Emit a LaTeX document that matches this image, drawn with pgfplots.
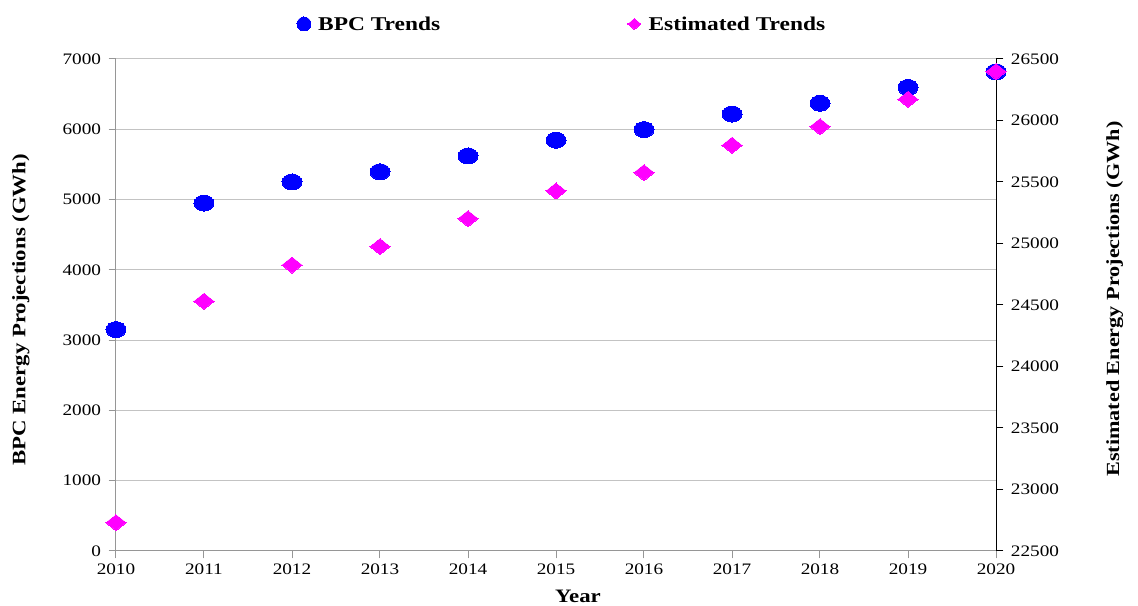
\documentclass[border=0pt]{standalone}
\usepackage{fontspec}
\setmainfont{Liberation Serif}[FakeStretch=1.2]
\usepackage{pgfplots}
\pgfplotsset{compat=1.18}
\definecolor{bpcblue}{RGB}{0,0,255}
\definecolor{estmag}{RGB}{255,0,255}
\definecolor{axgray}{RGB}{150,150,150}
\definecolor{gridgray}{RGB}{195,195,195}

\begin{document}
\begin{tikzpicture}
\pgfplotsset{
  common/.style={
    width=880pt, height=492pt, scale only axis,
    xmin=2010, xmax=2020,
    xtick={2010,2011,...,2020},
    scaled y ticks=false,
    /pgf/number format/assume math mode=true,
    /pgf/number format/fixed,
    /pgf/number format/1000 sep={},
    ticklabel style={font=\fontsize{16}{19}\selectfont},
    tick align=outside,
    major tick length=7.5pt,
    clip=false,
  }
}
\begin{axis}[common,
  ymin=0, ymax=7000, ytick={0,1000,...,7000},
  axis y line*=left, axis x line*=bottom,
  axis line style={axgray, line width=1pt},
  every tick/.style={axgray, line width=1pt},
  ymajorgrids, grid style={gridgray, line width=1pt},
  xticklabel style={yshift=-2pt},
  yticklabel style={xshift=-4pt},
  xlabel={\bfseries Year},
  xlabel style={font=\fontsize{19}{22}\selectfont, at={(axis description cs:0.525,-0.0915)}, anchor=center},
  ylabel={\bfseries BPC Energy Projections (GWh)},
  ylabel style={font=\fontsize{19}{22}\selectfont, at={(axis description cs:-0.108,0.49)}, anchor=center},
  legend style={draw=none, fill=none, at={(axis description cs:0.5,1)}, anchor=center, yshift=35pt, xshift=6pt,
    font=\fontsize{19.5}{22}\selectfont\bfseries, legend columns=2,
    /tikz/every even column/.append style={column sep=185pt}},
  legend image code/.code={\path (-7pt,0pt) (12pt,0pt); \draw[#1] plot coordinates {(0pt,0pt)};},
]
\addplot[only marks, mark=*, mark size=8pt, mark options={xscale=1.25, fill=bpcblue, draw=bpcblue, line width=0pt}, forget plot]
  coordinates {(2010,3150) (2011,4950) (2012,5250) (2013,5395) (2014,5620) (2015,5845) (2016,5995) (2017,6217) (2018,6370) (2019,6595) (2020,6817)};
\addlegendimage{only marks, mark=*, mark size=7pt, mark options={fill=bpcblue, draw=bpcblue, line width=0pt}}
\addlegendentry{BPC Trends}
\addlegendimage{only marks, mark=diamond*, mark size=5.5pt, mark options={xscale=1.58, fill=estmag, draw=estmag, line width=0pt}}
\addlegendentry{Estimated Trends}
\end{axis}
\begin{axis}[common,
  ymin=22500, ymax=26500, ytick={22500,23000,...,26500},
  axis y line*=right, axis x line=none,
  axis line style={black, line width=1pt},
  every tick/.style={black, line width=1pt},
  yticklabel style={xshift=4pt},
  ylabel={\bfseries Estimated Energy Projections (GWh)},
  ylabel style={font=\fontsize{18.5}{22}\selectfont, at={(axis description cs:1.135,0.512)}, anchor=center},
]
\addplot[only marks, mark=diamond*, mark size=8pt, mark options={xscale=1.67, fill=estmag, draw=estmag, line width=0pt}]
  coordinates {(2010,22730) (2011,24530) (2012,24825) (2013,24975) (2014,25202) (2015,25427) (2016,25576) (2017,25798) (2018,25950) (2019,26172) (2020,26397)};
\end{axis}
\path (-116pt,-53pt) rectangle (1022pt,551pt);
\end{tikzpicture}
\end{document}
